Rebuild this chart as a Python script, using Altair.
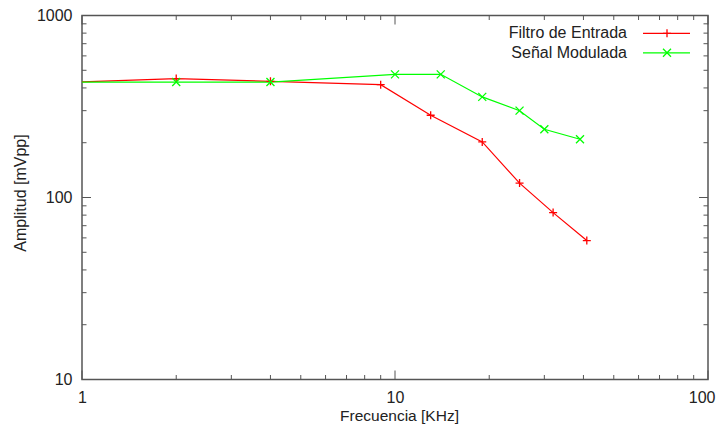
import altair as alt
import pandas as pd

# ---- data ----
series_names = ["Filtro de Entrada", "Señal Modulada"]
series_colors = ["#ff0000", "#00ff00"]

freq_filtro = [1, 2, 4, 9, 13, 19, 25, 32, 41]
amp_filtro = [432, 450, 435, 417, 283, 202, 120, 82.6, 58]

freq_senal = [1, 2, 4, 10, 14, 19, 25, 30, 39]
amp_senal = [431, 431, 431, 475, 475, 357, 300, 237, 209]

x_major = [1, 10, 100]
x_minor = [2, 3, 4, 5, 6, 7, 8, 9, 20, 30, 40, 50, 60, 70, 80, 90]
y_major = [10, 100, 1000]
y_minor = [20, 30, 40, 50, 60, 70, 80, 90, 200, 300, 400, 500, 600, 700, 800, 900]

x_title = "Frecuencia [KHz]"
y_title = "Amplitud [mVpp]"

# ---- styles ----
W, H = 626, 364
FONT = "Liberation Sans"
TXT = "#222222"
FRAME = "#555555"
PLUS = "M-1,0L1,0M0,-1L0,1"
CROSS = "M-1,-1L1,1M-1,1L1,-1"

df = pd.concat([
    pd.DataFrame({"series": series_names[0], "freq": freq_filtro, "amp": amp_filtro}),
    pd.DataFrame({"series": series_names[1], "freq": freq_senal, "amp": amp_senal}),
])

xs = alt.Scale(type="log", domain=[1, 100], nice=False)
ys = alt.Scale(type="log", domain=[10, 1000], nice=False)
cs = alt.Scale(domain=series_names, range=series_colors)
ss = alt.Scale(domain=series_names, range=[PLUS, CROSS])

x_axis = alt.Axis(values=x_major, format="~g", ticks=False, tickSize=0, domain=False, grid=False,
                  labelFlush=False, labelOverlap=False, labelFont=FONT, labelFontSize=16,
                  labelColor=TXT, labelPadding=10,
                  labelAlign=alt.ExprRef("datum.value >= 100 ? 'right' : 'center'"),
                  labelOffset=alt.ExprRef("datum.value >= 100 ? 7 : 0"),
                  title=x_title, titleFont=FONT, titleFontSize=15.5, titleFontWeight="normal",
                  titleColor=TXT, titleX=317, titleY=41, titleBaseline="alphabetic",
                  titleAlign="center")
y_axis = alt.Axis(values=y_major, format="~g", ticks=False, tickSize=0, domain=False, grid=False,
                  labelFlush=False, labelOverlap=False, labelFont=FONT, labelFontSize=16,
                  labelColor=TXT, labelPadding=10,
                  title=y_title, titleFont=FONT, titleFontSize=16, titleFontWeight="normal",
                  titleColor=TXT, titleX=-57, titleY=177, titleBaseline="alphabetic",
                  titleAlign="center", titleAngle=270)

base = alt.Chart(df).encode(
    x=alt.X("freq:Q", scale=xs, axis=x_axis),
    y=alt.Y("amp:Q", scale=ys, axis=y_axis),
    color=alt.Color("series:N", scale=cs, legend=None),
)
lines = base.mark_line(strokeWidth=1.2)
# gnuplot leaves the markers that fall on the border undrawn
points = base.mark_point(filled=False, size=64, strokeWidth=1.3, opacity=1).encode(
    shape=alt.Shape("series:N", scale=ss, legend=None)
).transform_filter(alt.datum.freq > 1)

layers = [lines, points]


def xticks(values, length):
    d = pd.DataFrame({"v": values})
    bottom = alt.Chart(d).mark_rule(color=FRAME, strokeWidth=1).encode(
        x=alt.X("v:Q", scale=xs, axis=x_axis), y=alt.value(H), y2=alt.value(H - length))
    top = alt.Chart(d).mark_rule(color=FRAME, strokeWidth=1).encode(
        x=alt.X("v:Q", scale=xs, axis=x_axis), y=alt.value(0), y2=alt.value(length))
    return [bottom, top]


def yticks(values, length):
    d = pd.DataFrame({"v": values})
    left = alt.Chart(d).mark_rule(color=FRAME, strokeWidth=1).encode(
        y=alt.Y("v:Q", scale=ys, axis=y_axis), x=alt.value(0), x2=alt.value(length))
    right = alt.Chart(d).mark_rule(color=FRAME, strokeWidth=1).encode(
        y=alt.Y("v:Q", scale=ys, axis=y_axis), x=alt.value(W), x2=alt.value(W - length))
    return [left, right]


layers += xticks(x_major, 9) + xticks(x_minor, 4.5)
layers += yticks(y_major, 9) + yticks(y_minor, 4.5)

# ---- legend (gnuplot style: text then sample) ----
for i, name in enumerate(series_names):
    ry = 17.8 + 19.5 * i
    d = pd.DataFrame({"name": [name]})
    layers.append(alt.Chart(d).mark_text(align="right", baseline="middle", font=FONT,
                                         fontSize=16, color=TXT).encode(
        text="name:N", x=alt.value(545), y=alt.value(ry)))
    layers.append(alt.Chart(d).mark_rule(color=series_colors[i], strokeWidth=1.2).encode(
        x=alt.value(561), x2=alt.value(608), y=alt.value(ry)))
    layers.append(alt.Chart(d).mark_point(shape=[PLUS, CROSS][i], filled=False, size=64,
                                          strokeWidth=1.3, color=series_colors[i], opacity=1).encode(
        x=alt.value(585), y=alt.value(ry)))

chart = alt.layer(*layers).properties(
    width=W, height=H,
    autosize=alt.AutoSizeParams(type="none"),
    padding={"left": 74, "top": 7.5, "right": 8, "bottom": 45},
    background="white",
).configure_view(stroke=FRAME, strokeWidth=1.5)

chart.save("out.html", embed_options={"renderer": "svg", "actions": False})
